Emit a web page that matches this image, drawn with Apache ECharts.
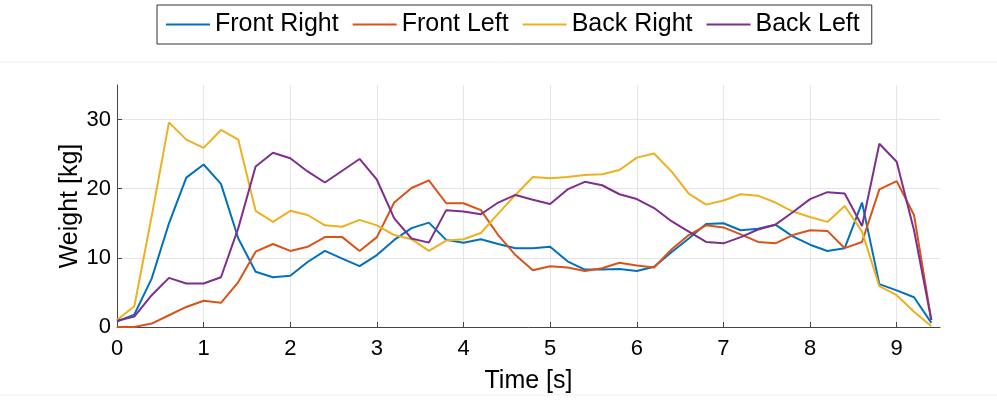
<!DOCTYPE html>
<html><head><meta charset="utf-8">
<script src="https://cdn.jsdelivr.net/npm/echarts@6/dist/echarts.min.js"></script>
<style>html,body{margin:0;padding:0;background:#fff}#c{width:997px;height:401px}</style>
</head><body><div id="c"></div>
<script>
var times = [0,0.2,0.4,0.6,0.8,1.0,1.2,1.4,1.6,1.8,2.0,2.2,2.4,2.6,2.8,3.0,3.2,3.4,3.6,3.8,4.0,4.2,4.4,4.6,4.8,5.0,5.2,5.4,5.6,5.8,6.0,6.2,6.4,6.6,6.8,7.0,7.2,7.4,7.6,7.8,8.0,8.2,8.4,8.6,8.8,9.0,9.2,9.4];
var frontRight = [0.8,1.8,7.0,15.0,21.6,23.5,20.7,12.8,8.0,7.2,7.4,9.4,11.0,9.9,8.8,10.4,12.6,14.3,15.1,12.6,12.2,12.7,12.0,11.4,11.4,11.6,9.5,8.3,8.3,8.4,8.1,8.7,10.8,12.8,14.9,15.0,14.0,14.2,14.8,13.1,11.9,11.0,11.4,18.0,6.2,5.3,4.3,0.6];
var frontLeft = [0.0,0.0,0.5,1.7,2.9,3.8,3.5,6.5,10.9,12.0,11.0,11.6,13.0,13.0,11.0,13.0,18.0,20.1,21.2,17.9,17.9,16.9,13.3,10.4,8.2,8.8,8.6,8.1,8.5,9.3,8.9,8.6,11.2,13.3,14.7,14.4,13.4,12.3,12.1,13.3,14.0,13.9,11.4,12.3,19.9,21.1,16.2,1.0];
var backRight = [1.0,3.0,16.0,29.6,27.1,25.9,28.5,27.1,16.8,15.2,16.8,16.2,14.7,14.5,15.5,14.7,13.3,12.7,11.0,12.5,12.7,13.6,16.4,19.1,21.7,21.5,21.7,22.0,22.1,22.7,24.5,25.1,22.5,19.3,17.7,18.3,19.2,19.0,18.0,16.7,15.9,15.2,17.5,13.8,5.9,4.6,2.2,0.1];
var backLeft = [0.9,1.5,4.6,7.1,6.3,6.3,7.2,14.3,23.2,25.2,24.4,22.5,20.9,22.6,24.3,21.3,15.7,12.8,12.2,16.9,16.7,16.3,18.0,19.1,18.4,17.8,19.9,21.0,20.5,19.2,18.5,17.2,15.3,13.8,12.3,12.1,13.0,14.1,14.8,16.6,18.5,19.5,19.3,14.6,26.5,23.9,14.0,1.0];
var seriesNames = ['Front Right','Front Left','Back Right','Back Left'];
var seriesColors = ['#0072BD','#D95319','#EDB120','#7E2F8E'];
var xTicks = [0,1,2,3,4,5,6,7,8,9];
var yTicks = [0,10,20,30];

var allVals = [frontRight, frontLeft, backRight, backLeft];
function pairs(v){ return times.map(function(t,i){ return [t, v[i]]; }); }
var font = 'Liberation Sans';
var chart = echarts.init(document.getElementById('c'), null, {renderer:'canvas'});
chart.setOption({
  animation:false,
  backgroundColor:'#fff',
  textStyle:{fontFamily:font},
  graphic:[
    {type:'line', shape:{x1:0,y1:62,x2:997,y2:62}, style:{stroke:'#f0f0f0',lineWidth:1}, silent:true},
    {type:'line', shape:{x1:0,y1:395,x2:997,y2:395}, style:{stroke:'#f0f0f0',lineWidth:1}, silent:true}
  ],
  legend:{
    top:5, left:157,
    data:seriesNames,
    itemWidth:44, itemHeight:2, itemGap:14,
    borderColor:'#333', borderWidth:1, padding:[7,12,7,9],
    textStyle:{fontSize:25, color:'#000', fontFamily:font},
    icon:'rect'
  },
  grid:{left:117, right:57, top:85, bottom:74, containLabel:false},
  xAxis:{
    type:'value', min:0, max:9.5, interval:1,
    name:'Time [s]', nameLocation:'middle', nameGap:42, nameMoveOverlap:false,
    nameTextStyle:{fontSize:25, color:'#000', fontFamily:font},
    axisLine:{show:true, onZero:false, lineStyle:{color:'#444', width:1}},
    axisTick:{show:true, inside:true, length:5, lineStyle:{color:'#444'}},
    axisLabel:{fontSize:22, color:'#000', margin:11, showMaxLabel:false, fontFamily:font,
      formatter:function(v){ return xTicks.indexOf(v) >= 0 ? String(v) : ''; }},
    splitLine:{show:true, showMaxLine:false, lineStyle:{color:'#e5e5e5', width:1}}
  },
  yAxis:{
    type:'value', min:0, max:35, interval:10,
    name:'Weight [kg]', nameLocation:'middle', nameGap:34, nameRotate:90, nameMoveOverlap:false,
    nameTextStyle:{fontSize:25, color:'#000', fontFamily:font},
    axisLine:{show:true, lineStyle:{color:'#444', width:1}},
    axisTick:{show:true, inside:true, length:5, lineStyle:{color:'#444'}},
    axisLabel:{fontSize:22, color:'#000', margin:6, showMaxLabel:false, fontFamily:font,
      formatter:function(v){ return yTicks.indexOf(v) >= 0 ? String(v) : ''; }},
    splitLine:{show:true, showMaxLine:false, lineStyle:{color:'#e5e5e5', width:1}}
  },
  series: seriesNames.map(function(n,i){
    return {name:n, type:'line', data:pairs(allVals[i]), showSymbol:false, symbol:'none',
      color:seriesColors[i], lineStyle:{width:2, color:seriesColors[i]}, clip:false};
  })
});
</script></body></html>
